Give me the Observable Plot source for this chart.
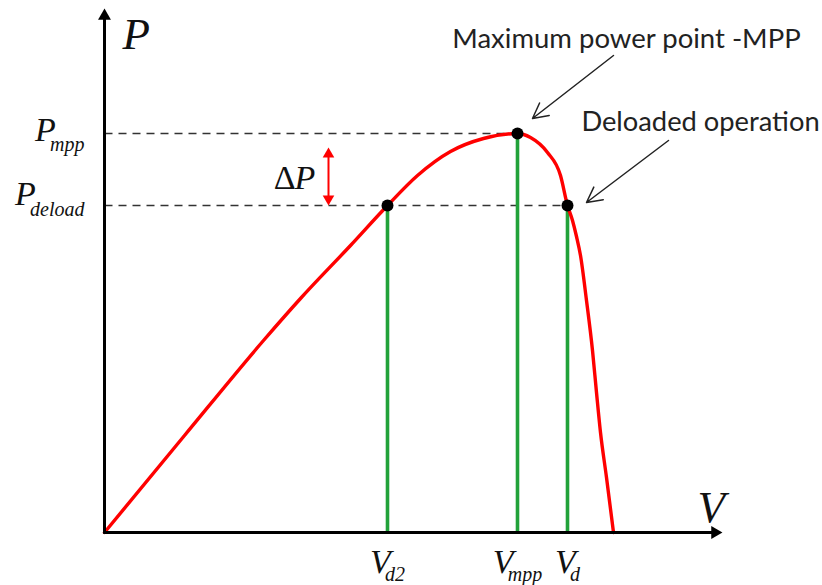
<!DOCTYPE html>
<html>
<head>
<meta charset="utf-8">
<script src="https://cdn.jsdelivr.net/npm/d3@7"></script>
<script src="https://cdn.jsdelivr.net/npm/@observablehq/plot@0.6"></script>
<style>
  html, body { margin: 0; padding: 0; background: #fff; overflow: hidden; }
</style>
</head>
<body>
<div id="chart"></div>
<script>
// P–V characteristic of a PV source (arbitrary units)
const voltage = [0, 80, 159, 196, 246, 283, 313, 346, 379, 413, 426, 443, 456, 463, 468, 472, 476, 482, 488, 492, 496, 502, 509];
const power   = [0, 97, 192, 234, 287, 327, 357, 381, 394, 399, 395, 380, 357, 327, 312, 296, 277, 232, 182, 140, 100, 55, 0];

// Operating points: deloaded (left), maximum power point, deloaded (right)
const pointSubs = ["d2", "mpp", "d"];
const pointV = [283, 413, 463];
const pointP = [327, 399, 327];

// Power levels marked on the vertical axis
const levelSubs = ["mpp", "deload"];
const levelP = [399, 327];
const levelV = [413, 463];

// ΔP marker: voltage position and power span
const deltaV = 224;
const deltaSpan = [385, 327];

// Axis extents (arrow tips)
const vAxisEnd = 618;
const pAxisEnd = 524;

// Axis titles: text, voltage, power
const axisTitles = ["P", "V"];
const axisTitleV = [18, 593];
const axisTitleP = [484, 11];

// Callouts: text, text anchor point, arrow start and end
const calloutText = ["Maximum power point -MPP", "Deloaded operation"];
const calloutTextV = [522, 596];
const calloutTextP = [485, 402];
const calloutFromV = [509, 564];
const calloutFromP = [477, 392];
const calloutToV = [428, 482];
const calloutToP = [414, 330];

const curve = voltage.map((v, i) => ({v, p: power[i]}));
const points = pointV.map((v, i) => ({v, p: pointP[i], sub: pointSubs[i]}));
const levels = levelP.map((p, i) => ({p, v: levelV[i], sub: levelSubs[i]}));
const callouts = calloutText.map((t, i) => ({
  t, tv: calloutTextV[i], tp: calloutTextP[i],
  v1: calloutFromV[i], p1: calloutFromP[i], v2: calloutToV[i], p2: calloutToP[i]
}));

const serif = "'Liberation Serif', 'Times New Roman', serif";
const sans = "Lato, 'Liberation Sans', sans-serif";
const red = "#ff0000";
const green = "#22a23a";
const calloutSizes = [27.5, 27.3];

const ctx = document.createElement("canvas").getContext("2d");
function textWidth(s, size) {
  ctx.font = `italic ${size}px ${serif}`;
  return ctx.measureText(s).width;
}

const mainSize = 34, subSize = 20, kern = 15;

// Power-axis tick labels: italic P with a subscript, right-aligned near the axis
const levelDy = [[7, 17], [-1, 10]];
const levelLabelMarks = levels.flatMap((d, i) => {
  const w = textWidth(d.sub, subSize);
  const common = {x: () => 0, y: () => d.p, fontFamily: serif, fontStyle: "italic", fill: "#111", lineAnchor: "bottom"};
  return [
    Plot.text([d], {...common, text: () => "P", fontSize: mainSize, textAnchor: "start", dx: -20 - w - kern, dy: levelDy[i][0]}),
    Plot.text([d], {...common, text: () => d.sub, fontSize: subSize, textAnchor: "end", dx: -20, dy: levelDy[i][1]})
  ];
});

// Voltage-axis tick labels: italic V with a subscript, centred under each green line
const pointLabelMarks = points.flatMap((d) => {
  const w = textWidth(d.sub, subSize);
  const start = -(kern + w) / 2;
  const common = {x: () => d.v, y: () => 0, fontFamily: serif, fontStyle: "italic", fill: "#111", lineAnchor: "bottom"};
  return [
    Plot.text([d], {...common, text: () => "V", fontSize: mainSize, textAnchor: "start", dx: start, dy: 40}),
    Plot.text([d], {...common, text: () => d.sub, fontSize: subSize, textAnchor: "start", dx: start + kern, dy: 48})
  ];
});

const chart = Plot.plot({
  width: 822,
  height: 585,
  marginLeft: 104,
  marginRight: 0,
  marginTop: 0,
  marginBottom: 53,
  x: {domain: [0, 718], axis: null},
  y: {domain: [0, 532], axis: null},
  style: {background: "#fff", overflow: "visible"},
  marks: [
    // dashed guides from the power axis to the operating points
    Plot.link(levels, {x1: () => 0, y1: "p", x2: "v", y2: "p", stroke: "#333", strokeWidth: 1.6, strokeDasharray: "8,6"}),
    // vertical lines down to each operating voltage
    Plot.link(points, {x1: "v", y1: () => 0, x2: "v", y2: "p", stroke: green, strokeWidth: 3.6}),
    // P–V curve
    Plot.line(curve, {x: "v", y: "p", stroke: red, strokeWidth: 3.4, curve: "monotone-x"}),
    // axes with arrowheads
    Plot.arrow([0], {x1: () => 0, y1: () => 0, x2: () => vAxisEnd, y2: () => 0, stroke: "#000", strokeWidth: 3, headLength: 0, insetEnd: 9}),
    Plot.arrow([0], {x1: () => 0, y1: () => 0, x2: () => 0, y2: () => pAxisEnd, stroke: "#000", strokeWidth: 3, headLength: 0, insetEnd: 9}),
    Plot.dot([0], {x: () => vAxisEnd, y: () => 0, symbol: "triangle", r: 4.8, fill: "#000", stroke: "none", rotate: 90, dx: -7.5}),
    Plot.dot([0], {x: () => 0, y: () => pAxisEnd, symbol: "triangle", r: 4.8, fill: "#000", stroke: "none", dy: 7.5}),
    // operating point markers
    Plot.dot(points, {x: "v", y: "p", r: 6, fill: "#000", stroke: "none"}),
    // ΔP double arrow
    Plot.arrow([0], {x1: () => deltaV, y1: () => deltaSpan[0], x2: () => deltaV, y2: () => deltaSpan[1], stroke: red, strokeWidth: 2, headLength: 0, insetStart: 8, insetEnd: 8}),
    Plot.dot([0], {x: () => deltaV, y: () => deltaSpan[0], symbol: "triangle", r: 4.3, fill: red, stroke: "none", dy: 6.6}),
    Plot.dot([0], {x: () => deltaV, y: () => deltaSpan[1], symbol: "triangle", r: 4.3, fill: red, stroke: "none", rotate: 180, dy: -6.6}),
    Plot.text([0], {x: () => deltaV, y: () => (deltaSpan[0] + deltaSpan[1]) / 2, text: () => "Δ", fontFamily: serif, fontSize: 34, fill: "#111", textAnchor: "end", lineAnchor: "bottom", dx: -33, dy: 12}),
    Plot.text([0], {x: () => deltaV, y: () => (deltaSpan[0] + deltaSpan[1]) / 2, text: () => "P", fontFamily: serif, fontStyle: "italic", fontSize: 34, fill: "#111", textAnchor: "start", lineAnchor: "bottom", dx: -34, dy: 12}),
    // callouts
    Plot.arrow(callouts, {x1: "v1", y1: "p1", x2: "v2", y2: "p2", stroke: "#222", strokeWidth: 1.5, headLength: 17, headAngle: 55}),
    Plot.text(callouts, {x: "tv", y: "tp", text: "t", fontFamily: sans, fontSize: (d, i) => calloutSizes[i], fill: "#222", textAnchor: "middle", lineAnchor: "bottom"}),
    // axis titles
    Plot.text(axisTitles, {x: (d, i) => axisTitleV[i], y: (d, i) => axisTitleP[i], text: (d) => d, fontFamily: serif, fontStyle: "italic", fontSize: 45, fill: "#111", textAnchor: "start", lineAnchor: "bottom"}),
    ...levelLabelMarks,
    ...pointLabelMarks
  ]
});

document.getElementById("chart").appendChild(chart);
</script>
</body>
</html>
